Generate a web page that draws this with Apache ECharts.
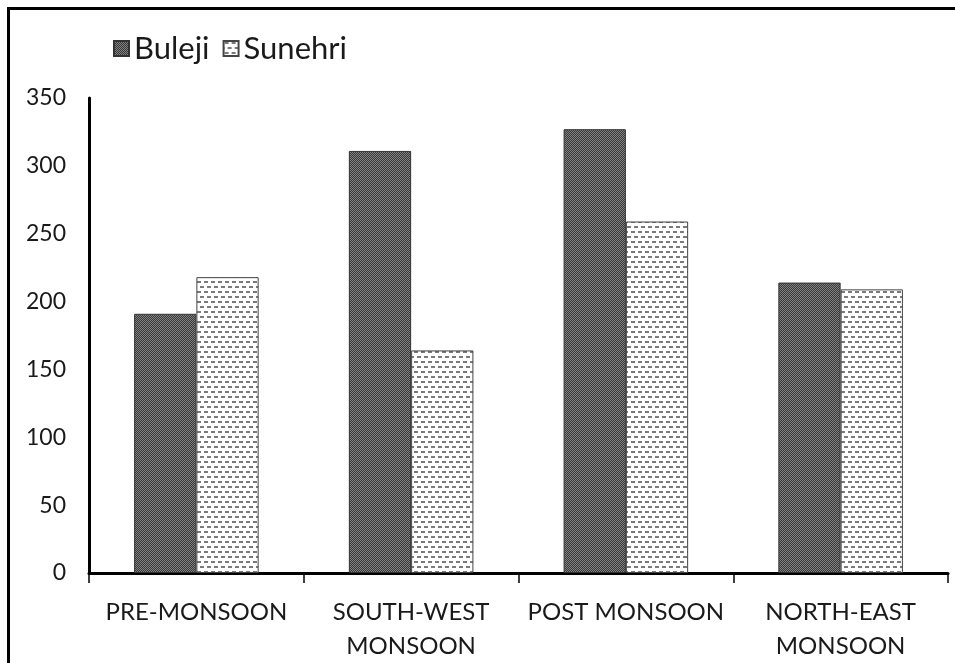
<!DOCTYPE html>
<html><head><meta charset="utf-8">
<script src="https://cdn.jsdelivr.net/npm/echarts@6/dist/echarts.min.js"></script>
<style>
html,body{margin:0;padding:0;background:#fff;}
#frame{position:absolute;left:7px;top:7px;width:948px;height:656px;border-left:3px solid #000;border-top:3px solid #000;box-sizing:border-box;}
#chart{position:absolute;left:0;top:0;width:955px;height:663px;}
</style>
</head><body>
<div id="frame"></div>
<div id="chart"></div>
<script>
const categories = ['PRE-MONSOON', 'SOUTH-WEST\nMONSOON', 'POST MONSOON', 'NORTH-EAST\nMONSOON'];
const seriesNames = ['Buleji', 'Sunehri'];
const buleji = [191, 311, 327, 214];
const sunehri = [218, 164, 259, 209];
const yTicks = [0, 50, 100, 150, 200, 250, 300, 350];

function checkPattern() {
  const c = document.createElement('canvas'); c.width = 2; c.height = 2;
  const g = c.getContext('2d');
  g.fillStyle = '#3a3a3a'; g.fillRect(0, 0, 2, 2);
  g.fillStyle = '#808080'; g.fillRect(0, 0, 1, 1); g.fillRect(1, 1, 1, 1);
  return c;
}
function dashPattern() {
  const c = document.createElement('canvas'); c.width = 14; c.height = 10;
  const g = c.getContext('2d');
  g.fillStyle = '#ffffff'; g.fillRect(0, 0, 14, 10);
  g.fillStyle = '#7a7a7a';
  g.fillRect(1, 1, 4, 2); g.fillRect(8, 1, 4, 2);
  g.fillRect(4, 6, 4, 2); g.fillRect(11, 6, 3, 2); g.fillRect(0, 6, 1, 2);
  return c;
}

const chart = echarts.init(document.getElementById('chart'), null, {renderer: 'canvas'});
const font = 'Lato, "Open Sans", sans-serif';
chart.setOption({
  animation: false,
  backgroundColor: 'transparent',
  textStyle: {fontFamily: font},
  legend: {
    left: 108, top: 28,
    itemWidth: 15, itemHeight: 15, itemGap: 13,
    icon: 'rect',
    textStyle: {fontSize: 31, color: '#1a1a1a', fontFamily: font},
    data: seriesNames
  },
  grid: {left: 89, right: 7, top: 98, bottom: 87, containLabel: false},
  xAxis: {
    type: 'category',
    data: categories,
    axisLine: {lineStyle: {color: '#000', width: 3}},
    axisTick: {show: true, length: 10, lineStyle: {color: '#000', width: 1.5}, alignWithLabel: false},
    axisLabel: {fontSize: 24, color: '#1a1a1a', margin: 22, lineHeight: 34, interval: 0, fontFamily: font}
  },
  yAxis: {
    type: 'value',
    min: 0, max: 350, interval: 50,
    axisLine: {show: true, lineStyle: {color: '#000', width: 3}},
    axisTick: {show: false},
    splitLine: {show: false},
    axisLabel: {fontSize: 23, color: '#1a1a1a', margin: 23, fontFamily: font,
      formatter: v => yTicks.includes(v) ? String(v) : ''}
  },
  series: [
    {
      name: seriesNames[0], type: 'bar', data: buleji,
      barGap: '0%', barCategoryGap: '42%',
      itemStyle: {color: {image: checkPattern(), repeat: 'repeat'}, borderColor: '#333', borderWidth: 1}
    },
    {
      name: seriesNames[1], type: 'bar', data: sunehri,
      barGap: '0%', barCategoryGap: '42%',
      itemStyle: {color: {image: dashPattern(), repeat: 'repeat'}, borderColor: '#444', borderWidth: 1}
    }
  ]
});
</script>
</body></html>
